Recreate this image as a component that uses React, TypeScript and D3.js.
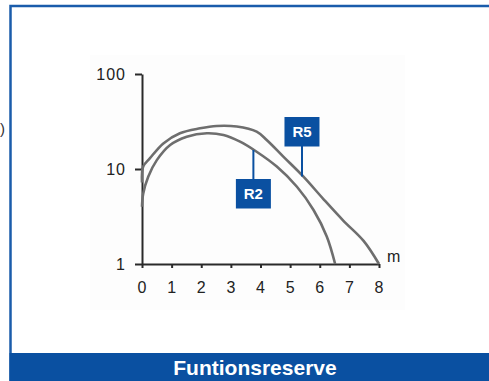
import React, { useEffect, useRef } from 'react'
import * as d3 from 'd3'

// Abstand (m) und Funktionsreserve-Werte
const distR5 = [0, 0.04, 0.27, 0.72, 1.28, 1.96, 2.52, 3.2, 3.87, 4.21, 4.77, 5.45, 6.13, 6.8, 7.48, 8]
const valR5 = [7.2, 10.6, 13, 18.6, 23.8, 26.8, 28.4, 28, 24.7, 20.2, 13.5, 8.3, 4.8, 2.85, 1.75, 1]
const distR2 = [0, 0.04, 0.21, 0.5, 0.95, 1.51, 2.19, 2.75, 3.31, 3.87, 4.55, 5.23, 5.79, 6.24, 6.52]
const valR2 = [4, 5.5, 8.3, 12.4, 17.9, 21.9, 23.8, 22.8, 19.4, 15.2, 10.6, 6.5, 3.7, 1.94, 1]
const xTicks = [0, 1, 2, 3, 4, 5, 6, 7, 8]
const yTicks = [1, 10, 100]
const labels = ['R2', 'R5']
const labelDist = [3.76, 5.4]
const title = 'Funtionsreserve'

const W = 489
const H = 381
const blue = '#0a50a1'
const font = '"Liberation Sans", Arial, sans-serif'

export default function App() {
    const ref = useRef<SVGSVGElement>(null)

    useEffect(() => {
        const svg = d3.select(ref.current)
        svg.selectAll('*').remove()

        const x = d3.scaleLinear().domain([0, 8]).range([142, 379])
        const y = d3.scaleLog().domain([1, 100]).range([264, 74])

        svg.append('rect').attr('width', W).attr('height', H).attr('fill', '#fff')
        // sehr helles Feld hinter dem Diagramm
        svg.append('rect')
            .attr('x', 90).attr('y', 55).attr('width', 315).attr('height', 255)
            .attr('fill', '#fdfdfd')

        // Rahmen
        svg.append('path')
            .attr('d', 'M10.5,' + H + 'V6H' + W)
            .attr('fill', 'none')
            .attr('stroke', '#1a5cab')
            .attr('stroke-width', 2.5)

        svg.append('text')
            .attr('x', 0).attr('y', 134)
            .attr('font-family', font).attr('font-size', 15)
            .attr('fill', '#333')
            .text(')')

        // Achsen
        const xAxis = svg.append('g')
            .attr('transform', 'translate(0,264)')
            .call(d3.axisBottom(x).tickValues(xTicks).tickSize(4).tickSizeOuter(0).tickPadding(14).tickFormat(d3.format('d')))
        const yAxis = svg.append('g')
            .attr('transform', 'translate(142,0)')
            .call(d3.axisLeft(y).tickValues(yTicks).tickSize(7).tickSizeOuter(0).tickPadding(9).tickFormat(d3.format('d')))

        for (const g of [xAxis, yAxis]) {
            g.select('.domain').attr('stroke', '#2a2a2a').attr('stroke-width', 2)
            g.selectAll('.tick line').attr('stroke', '#2a2a2a').attr('stroke-width', 2)
            g.selectAll('.tick text')
                .attr('fill', '#222')
                .attr('font-family', font)
                .attr('font-size', 16)
                .attr('letter-spacing', 1)
        }

        svg.append('text')
            .attr('x', 387).attr('y', 262)
            .attr('font-family', font).attr('font-size', 16)
            .attr('fill', '#222')
            .text('m')

        // Kurven
        const series = [
            { d: distR2, v: valR2 },
            { d: distR5, v: valR5 },
        ]
        series.forEach(s => {
            const pts = s.d.map((d, i) => [x(d), y(s.v[i])] as [number, number])
            svg.append('path')
                .attr('d', d3.line().curve(d3.curveCatmullRom.alpha(0.5))(pts))
                .attr('fill', 'none')
                .attr('stroke', '#6e6e6e')
                .attr('stroke-width', 2.6)
        })

        // Beschriftungen R2 / R5
        const boxes = [
            { lineY: [150, 179], box: 179 },
            { lineY: [146, 176.5], box: 117 },
        ]
        labels.forEach((name, i) => {
            const cx = x(labelDist[i])
            const b = boxes[i]
            svg.append('line')
                .attr('x1', cx).attr('x2', cx)
                .attr('y1', b.lineY[0]).attr('y2', b.lineY[1])
                .attr('stroke', blue).attr('stroke-width', 2)
            svg.append('rect')
                .attr('x', cx - 17.5).attr('y', b.box)
                .attr('width', 35).attr('height', 29.5)
                .attr('fill', blue)
            svg.append('text')
                .attr('x', cx).attr('y', b.box + 20)
                .attr('text-anchor', 'middle')
                .attr('font-family', font).attr('font-size', 15).attr('font-weight', 'bold')
                .attr('fill', '#fff')
                .text(name)
        })

        // Titelleiste
        svg.append('rect')
            .attr('x', 9.5).attr('y', 353)
            .attr('width', W - 9.5).attr('height', H - 353)
            .attr('fill', blue)
        svg.append('text')
            .attr('x', 255).attr('y', 375)
            .attr('text-anchor', 'middle')
            .attr('font-family', font).attr('font-size', 21).attr('font-weight', 'bold')
            .attr('fill', '#fff')
            .text(title)
    }, [])

    return (
        <svg ref={ref} width={W} height={H} style={{ position: 'absolute', left: 0, top: 0 }} />
    )
}
